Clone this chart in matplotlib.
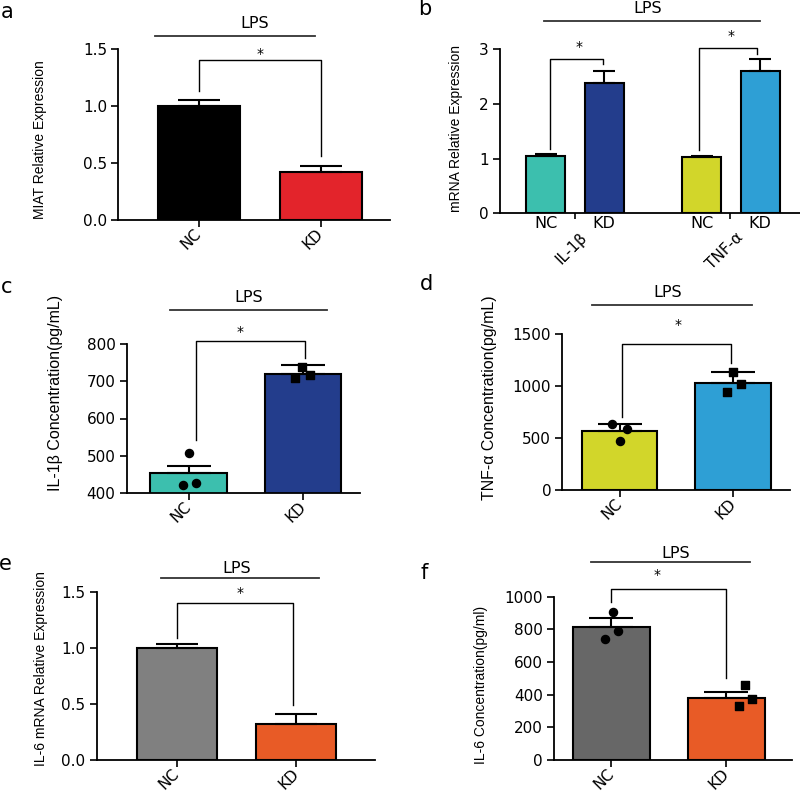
import matplotlib
matplotlib.use("Agg")
import matplotlib.pyplot as plt
import numpy as np

# ---- data ----
groups = ["NC", "KD"]

miat_mean = [1.00, 0.424]
miat_sem = [0.05, 0.052]

b_genes = ["IL-1β", "TNF-α"]
b_labels = ["NC", "KD", "NC", "KD"]
b_mean = [1.04, 2.39, 1.03, 2.60]
b_sem = [0.045, 0.22, 0.02, 0.22]

il1b_mean = [453, 720]
il1b_sem = [20, 24]
il1b_nc = [507, 421, 428]
il1b_kd = [737, 708, 716]

tnf_mean = [567, 1032]
tnf_sem = [65, 106]
tnf_nc = [635, 587, 474]
tnf_kd = [1138, 1016, 940]

il6m_mean = [1.00, 0.32]
il6m_sem = [0.04, 0.09]

il6_mean = [816, 381]
il6_sem = [51, 37]
il6_nc = [908, 792, 741]
il6_kd = [459, 372, 333]

# ---- layout helpers (pixel based) ----
W, H = 800, 799
TICK_FONT = "DejaVu Sans"
LABEL_FONT = "Liberation Sans"

fig = plt.figure(figsize=(W / 100, H / 100), dpi=100)


def make_axes(left, right, top, bottom, ylim, yticks, xlim, ylabel, ylab_right, ylab_cy, ylab_size):
    ax = fig.add_axes([left / W, 1 - bottom / H, (right - left) / W, (bottom - top) / H])
    ax.set_xlim(*xlim)
    ax.set_ylim(*ylim)
    ax.set_yticks(yticks)
    for s in ("top", "right"):
        ax.spines[s].set_visible(False)
    for s in ("left", "bottom"):
        ax.spines[s].set_linewidth(1.3)
    ax.tick_params(axis="both", length=5, width=1.2, labelsize=11, pad=3)
    for lbl in ax.get_yticklabels():
        lbl.set_family(TICK_FONT)
    ax.set_ylabel(ylabel, fontsize=ylab_size, family=LABEL_FONT)
    ax.yaxis.set_label_coords((ylab_right - left) / (right - left),
                              (bottom - ylab_cy) / (bottom - top))
    return ax


def rotated_xticks(ax, pos, labels):
    ax.set_xticks(pos, labels)
    for lbl in ax.get_xticklabels():
        lbl.set_rotation(45)
        lbl.set_ha("right")
        lbl.set_va("center")
        lbl.set_rotation_mode("anchor")
        lbl.set_family(TICK_FONT)
        lbl.set_fontsize(11)


def bars(ax, pos, means, sems, colors, width, capsize):
    ax.bar(pos, means, width=width, color=colors, edgecolor="black", linewidth=1.5, zorder=2)
    ax.errorbar(pos, means, yerr=[np.zeros(len(sems)), sems], fmt="none",
                ecolor="black", elinewidth=1.5, capsize=capsize, capthick=1.5, zorder=3)


def points(ax, x, vals, offsets, marker):
    ax.scatter(np.array(offsets) + x, vals, s=34 if marker == "o" else 30, marker=marker,
               color="black", zorder=4, clip_on=False)


def bracket(ax, x0, x1, ytop, yl, yr, sx, sy):
    ax.plot([x0, x0, x1, x1], [yl, ytop, ytop, yr], color="black", lw=1.0, clip_on=False)
    ax.text(sx, sy, "*", ha="center", va="center", fontsize=10, family=TICK_FONT)


def lps(ax, x0, x1, y, tx, ty):
    ax.plot([x0, x1], [y, y], color="#333333", lw=1.3, clip_on=False)
    ax.text(tx, ty, "LPS", ha="center", va="center", fontsize=11.5, family=TICK_FONT)


def letter(x, y, s):
    fig.text(x / W, 1 - y / H, s, ha="center", va="center", fontsize=15, family=TICK_FONT)


pos2 = [0, 1]

# ---- a ----
ax = make_axes(118.3, 390, 49, 220, (0, 1.5), [0.0, 0.5, 1.0, 1.5], (-0.665, 1.568),
               "MIAT Relative Expression", 47, 140, 10)
ax.set_yticklabels(["0.0", "0.5", "1.0", "1.5"])
bars(ax, pos2, miat_mean, miat_sem, ["#000000", "#e3242b"], 0.67, 15)
rotated_xticks(ax, pos2, groups)
bracket(ax, 0.0, 1.0, 1.404, 1.134, 0.56, 0.5, 1.46)
lps(ax, -0.36, 0.95, 1.61, 0.46, 1.72)
letter(7, 12, "a")

# ---- b ----
b_pos = [0, 1, 2.667, 3.667]
ax = make_axes(500, 800, 49.3, 213.3, (0, 3), [0, 1, 2, 3], (-0.778, 4.35),
               "mRNA Relative Expression", 463, 129, 10)
bars(ax, b_pos, b_mean, b_sem, ["#3cbfae", "#233d8c", "#d2d62a", "#2e9fd5"], 0.667, 8)
ax.set_xticks(b_pos, b_labels)
ax.tick_params(axis="x", which="major", length=0, pad=2, labelsize=11.5)
for lbl in ax.get_xticklabels():
    lbl.set_family(TICK_FONT)
grp_x = [0.5, 3.16]
ax.set_xticks(grp_x, minor=True)
ax.tick_params(axis="x", which="minor", length=4, width=1.2)
for gx, g in zip(grp_x, b_genes):
    ax.text(gx + 0.08, -0.1, g, transform=ax.get_xaxis_transform(), rotation=45,
            ha="right", va="top", rotation_mode="anchor", fontsize=11, family=TICK_FONT)
bracket(ax, 0.077, 0.98, 2.82, 1.17, 2.73, 0.57, 3.05)
bracket(ax, 2.62, 3.615, 3.02, 1.15, 2.91, 3.17, 3.24)
lps(ax, -0.03, 3.67, 3.52, 1.75, 3.75)
letter(425, 9, "b")

# ---- c ----
ax = make_axes(126.7, 360, 344, 493, (400, 800), [400, 500, 600, 700, 800], (-0.54, 1.495),
               "IL-1β Concentration(pg/mL)", 63, 393, 11.5)
bars(ax, pos2, il1b_mean, il1b_sem, ["#3cbfae", "#233d8c"], 0.665, 16)
points(ax, 0, il1b_nc, [0.0, -0.05, 0.065], "o")
points(ax, 1, il1b_kd, [-0.01, -0.07, 0.06], "s")
rotated_xticks(ax, pos2, groups)
bracket(ax, 0.064, 1.014, 808, 542, 762, 0.45, 832)
lps(ax, -0.16, 1.21, 891, 0.52, 926)
letter(7, 287, "c")

# ---- d ----
ax = make_axes(562.3, 790, 334, 490, (0, 1500), [0, 500, 1000, 1500], (-0.503, 1.498),
               "TNF-α Concentration(pg/mL)", 497, 398, 11.5)
bars(ax, pos2, tnf_mean, tnf_sem, ["#d2d62a", "#2e9fd5"], 0.665, 16)
points(ax, 0, tnf_nc, [-0.066, 0.066, 0.0], "o")
points(ax, 1, tnf_kd, [0.0, 0.07, -0.055], "s")
rotated_xticks(ax, pos2, groups)
bracket(ax, 0.02, 0.978, 1400, 705, 1218, 0.51, 1587)
lps(ax, -0.24, 1.16, 1779, 0.42, 1897)
letter(427, 284, "d")

# ---- e ----
ax = make_axes(96.7, 375, 592.3, 760, (0, 1.5), [0.0, 0.5, 1.0, 1.5], (-0.677, 1.661),
               "IL-6 mRNA Relative Expression", 48, 669, 10)
ax.set_yticklabels(["0.0", "0.5", "1.0", "1.5"])
bars(ax, pos2, il6m_mean, il6m_sem, ["#808080", "#e85b26"], 0.67, 15)
rotated_xticks(ax, pos2, groups)
bracket(ax, 0.0, 0.97, 1.40, 1.09, 0.49, 0.53, 1.49)
lps(ax, -0.14, 1.19, 1.63, 0.5, 1.715)
letter(5, 564, "e")

# ---- f ----
ax = make_axes(554, 791.7, 596.7, 760, (0, 1000), [0, 200, 400, 600, 800, 1000], (-0.5, 1.57),
               "IL-6 Concentration(pg/ml)", 488, 685, 10)
bars(ax, pos2, il6_mean, il6_sem, ["#676767", "#e85b26"], 0.67, 16)
points(ax, 0, il6_nc, [0.01, 0.055, -0.06], "o")
points(ax, 1, il6_kd, [0.165, 0.22, 0.107], "s")
rotated_xticks(ax, pos2, groups)
bracket(ax, 0.0, 0.997, 1045, 969, 500, 0.40, 1133)
lps(ax, -0.18, 1.21, 1210, 0.56, 1265)
letter(424, 573, "f")

fig.savefig("out.png", dpi=100)
